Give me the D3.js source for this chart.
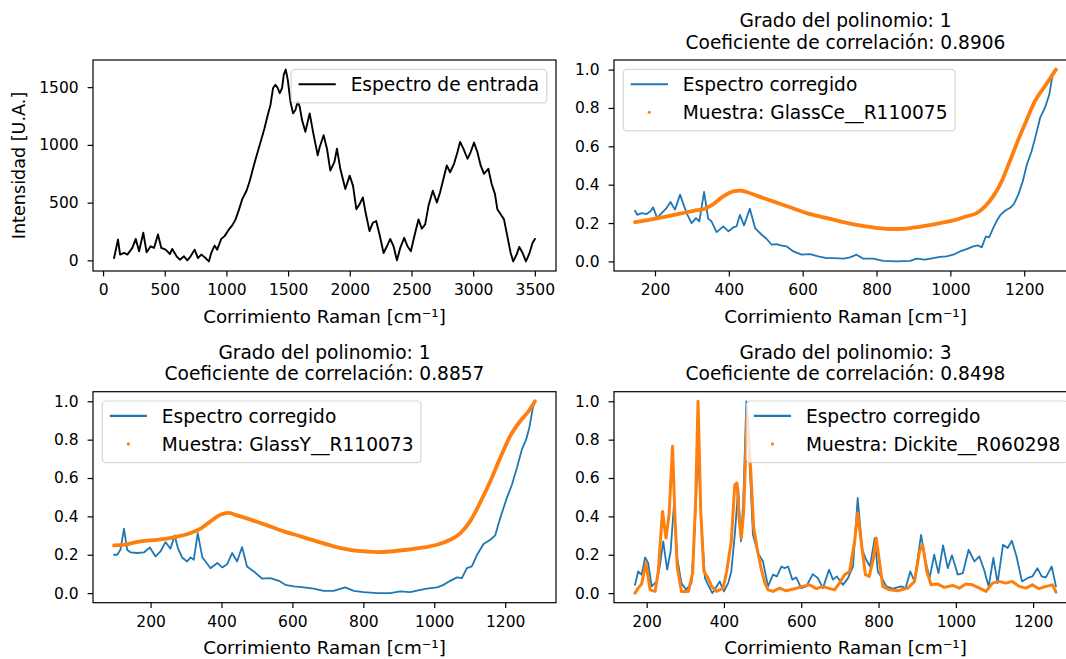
<!DOCTYPE html>
<html>
<head>
<meta charset="utf-8">
<script src="https://cdn.jsdelivr.net/npm/d3@7"></script>
<style>
body { margin: 0; background: #fff; }
text { font-family: "DejaVu Sans", sans-serif; fill: #000; }
</style>
</head>
<body>
<svg id="chart" width="1066" height="659"></svg>
<script>
// spectrum of the input sample [raman shift, intensity]
const entrada = [[89,20],[121,180],[138,50],[170,64],[197,50],[237,108],[265,186],[292,79],[326,239],[353,70],
  [386,122],[413,108],[445,224],[472,108],[507,93],[542,55],[561,99],[596,35],[623,6],[656,35],[683,0],[710,35],
  [742,93],[769,20],[796,50],[831,20],[858,-9],[877,64],[904,128],[925,93],[958,186],[985,210],[1020,268],
  [1047,303],[1074,355],[1101,437],[1128,530],[1163,603],[1190,691],[1222,822],[1249,924],[1281,1040],
  [1308,1142],[1335,1259],[1357,1346],[1378,1492],[1397,1521],[1416,1492],[1432,1448],[1451,1492],[1465,1608],
  [1481,1652],[1497,1565],[1519,1375],[1540,1273],[1559,1302],[1578,1375],[1594,1332],[1613,1215],[1640,1113],
  [1675,1273],[1702,1113],[1740,909],[1756,982],[1788,1084],[1815,967],[1842,778],[1875,851],[1896,967],
  [1923,793],[1964,618],[1999,734],[2026,647],[2053,443],[2080,487],[2106,545],[2128,414],[2160,253],[2187,326],
  [2214,341],[2241,224],[2274,64],[2301,122],[2328,186],[2355,122],[2382,0],[2409,108],[2441,195],[2468,122],
  [2495,79],[2530,239],[2557,355],[2584,274],[2611,312],[2638,472],[2673,603],[2706,501],[2732,589],[2759,705],
  [2786,822],[2813,763],[2845,836],[2873,938],[2894,1026],[2921,967],[2954,880],[2980,938],[3007,1020],[3034,938],
  [3061,822],[3088,749],[3123,793],[3150,661],[3177,574],[3196,443],[3223,399],[3250,355],[3277,210],[3304,64],
  [3325,-9],[3352,50],[3374,117],[3401,64],[3428,-9],[3455,58],[3482,152],[3501,186]];

// corrected spectrum vs GlassCe__R110075
const corrGlassCe = [[146,0.264],[152,0.243],[164,0.252],[177,0.247],[188,0.261],[195,0.282],[206,0.226],[218,0.252],
  [230,0.275],[242,0.310],[254,0.270],[268,0.348],[279,0.287],[288,0.243],[299,0.200],[311,0.226],[320,0.209],
  [333,0.362],[344,0.223],[353,0.209],[367,0.153],[385,0.183],[399,0.157],[412,0.177],[421,0.183],[430,0.243],
  [441,0.188],[457,0.275],[471,0.174],[489,0.139],[502,0.118],[516,0.087],[529,0.090],[543,0.082],[557,0.078],
  [575,0.052],[597,0.035],[620,0.038],[642,0.026],[665,0.017],[683,0.017],[710,0.014],[728,0.021],[746,0.035],
  [764,0.014],[791,0.014],[818,0.003],[854,0.000],[891,0.003],[909,0.014],[931,0.009],[954,0.017],[972,0.024],
  [990,0.026],[1008,0.035],[1026,0.052],[1044,0.064],[1062,0.078],[1076,0.083],[1085,0.073],[1096,0.130],
  [1105,0.125],[1116,0.174],[1125,0.209],[1136,0.243],[1148,0.264],[1161,0.278],[1172,0.299],[1184,0.348],
  [1196,0.417],[1207,0.504],[1220,0.574],[1232,0.661],[1243,0.748],[1256,0.800],[1268,0.870],[1277,0.974],[1286,1.0]];
const refGlassCe = [[146,0.205],[177,0.214],[223,0.231],[268,0.249],[304,0.264],[335,0.275],[358,0.299],[385,0.339],
  [412,0.365],[430,0.369],[448,0.362],[475,0.343],[520,0.313],[566,0.282],[611,0.252],[656,0.230],[701,0.209],
  [746,0.191],[791,0.177],[827,0.170],[854,0.169],[891,0.174],[927,0.184],[972,0.200],[1008,0.214],[1044,0.235],
  [1071,0.252],[1094,0.287],[1116,0.339],[1139,0.417],[1161,0.522],[1184,0.635],[1207,0.739],[1229,0.835],
  [1256,0.913],[1274,0.965],[1286,1.0]];

// corrected spectrum vs GlassY__R110073
const corrGlassY = [[97,0.200],[106,0.200],[115,0.226],[125,0.336],[134,0.226],[144,0.212],[162,0.209],[181,0.212],
  [198,0.238],[214,0.191],[228,0.217],[242,0.266],[256,0.231],[268,0.301],[277,0.235],[289,0.186],[303,0.165],
  [313,0.186],[322,0.174],[333,0.313],[346,0.186],[355,0.165],[369,0.130],[388,0.157],[402,0.134],[416,0.151],
  [430,0.209],[444,0.165],[458,0.240],[472,0.139],[491,0.113],[515,0.075],[538,0.078],[562,0.064],[580,0.043],
  [604,0.035],[632,0.030],[660,0.023],[688,0.012],[716,0.012],[749,0.030],[773,0.012],[801,0.005],[839,0.000],
  [876,0.000],[904,0.009],[932,0.005],[961,0.017],[979,0.023],[1008,0.030],[1026,0.043],[1045,0.064],[1064,0.082],
  [1078,0.078],[1092,0.130],[1106,0.139],[1120,0.197],[1139,0.256],[1158,0.278],[1172,0.301],[1186,0.391],
  [1203,0.487],[1219,0.565],[1233,0.652],[1247,0.748],[1259,0.800],[1268,0.861],[1278,0.966],[1284,1.0]];
const refGlassY = [[97,0.249],[125,0.252],[172,0.270],[219,0.278],[266,0.291],[313,0.313],[341,0.336],[369,0.374],
  [397,0.409],[421,0.418],[444,0.405],[482,0.383],[529,0.353],[576,0.322],[623,0.296],[669,0.270],[716,0.244],
  [763,0.226],[810,0.217],[839,0.214],[876,0.217],[923,0.226],[970,0.238],[1008,0.252],[1045,0.278],[1074,0.313],
  [1101,0.374],[1129,0.470],[1158,0.583],[1186,0.705],[1214,0.818],[1242,0.896],[1266,0.948],[1284,1.0]];

// corrected spectrum vs Dickite__R060298
const corrDickite = [[170,0.043],[178,0.113],[187,0.096],[196,0.186],[204,0.157],[213,0.035],[226,0.061],[234,0.139],
  [243,0.270],[253,0.122],[262,0.217],[271,0.470],[279,0.183],[290,0.052],[302,0.017],[316,0.052],[325,0.357],
  [333,0.748],[342,0.357],[351,0.078],[359,0.043],[370,0.000],[381,0.035],[389,0.061],[400,0.009],[411,0.052],
  [419,0.113],[428,0.304],[437,0.548],[444,0.270],[450,0.478],[458,1.0],[467,0.652],[475,0.304],[488,0.209],
  [501,0.165],[514,0.035],[527,0.096],[537,0.087],[549,0.139],[557,0.130],[566,0.139],[577,0.070],[587,0.082],
  [600,0.026],[613,0.035],[630,0.099],[643,0.078],[656,0.026],[672,0.122],[682,0.070],[692,0.087],[708,0.043],
  [721,0.078],[734,0.139],[746,0.496],[758,0.226],[768,0.174],[778,0.139],[790,0.287],[798,0.113],[809,0.078],
  [820,0.035],[837,0.023],[858,0.035],[870,0.026],[882,0.113],[893,0.061],[910,0.304],[921,0.174],[932,0.078],
  [944,0.200],[955,0.104],[967,0.249],[979,0.130],[990,0.197],[1005,0.096],[1018,0.104],[1033,0.226],[1048,0.165],
  [1061,0.191],[1073,0.122],[1085,0.035],[1097,0.183],[1108,0.052],[1122,0.252],[1134,0.235],[1145,0.273],
  [1157,0.191],[1171,0.061],[1185,0.078],[1198,0.087],[1211,0.130],[1222,0.087],[1233,0.082],[1248,0.139],[1259,0.035]];
const refDickite = [[170,0.0],[178,0.026],[187,0.047],[198,0.157],[209,0.017],[222,0.009],[230,0.113],[241,0.426],
  [250,0.287],[258,0.409],[267,0.765],[273,0.409],[279,0.139],[290,0.009],[308,0.009],[319,0.104],[327,0.496],
  [333,1.0],[340,0.426],[348,0.113],[359,0.078],[368,0.035],[381,0.009],[398,0.026],[407,0.113],[419,0.270],
  [428,0.565],[434,0.574],[439,0.391],[445,0.287],[451,0.426],[460,0.939],[469,0.652],[477,0.339],[488,0.209],
  [497,0.122],[506,0.052],[514,0.017],[527,0.009],[544,0.026],[561,0.012],[583,0.023],[604,0.035],[622,0.043],
  [639,0.023],[656,0.035],[669,0.026],[686,0.017],[699,0.052],[712,0.096],[725,0.113],[738,0.270],[746,0.417],
  [755,0.270],[766,0.096],[776,0.087],[787,0.183],[794,0.287],[801,0.183],[811,0.035],[828,0.017],[850,0.012],
  [876,0.026],[893,0.061],[906,0.217],[914,0.252],[925,0.113],[936,0.043],[953,0.047],[970,0.030],[992,0.040],
  [1009,0.026],[1026,0.047],[1043,0.043],[1061,0.026],[1078,0.009],[1095,0.052],[1112,0.061],[1129,0.052],
  [1146,0.061],[1164,0.035],[1181,0.026],[1198,0.043],[1215,0.023],[1233,0.035],[1250,0.043],[1259,0.005]];

const ticksWide = [0, 500, 1000, 1500, 2000, 2500, 3000, 3500];
const ticksIntensity = [0, 500, 1000, 1500];
const ticksShift = [200, 400, 600, 800, 1000, 1200];
const ticksNorm = [0, 0.2, 0.4, 0.6, 0.8, 1.0];

const blue = '#1f77b4', orange = '#ff7f0e';
const xLabel = 'Corrimiento Raman [cm⁻¹]';

const svg = d3.select('#chart');

// matplotlib style 5% margins
function padded(ext) {
    let r = ext[1] - ext[0];
    return [ext[0] - 0.05 * r, ext[1] + 0.05 * r];
}

function drawPanel(p) {
    const all = p.series.flatMap(s => s.data);
    const x = d3.scaleLinear().domain(padded(d3.extent(all, d => d[0]))).range([p.left, p.left + p.w]);
    const y = d3.scaleLinear().domain(padded(d3.extent(all, d => d[1]))).range([p.top + p.h, p.top]);

    const clipId = 'clip' + p.id;
    svg.append('clipPath').attr('id', clipId)
        .append('rect').attr('x', p.left).attr('y', p.top).attr('width', p.w).attr('height', p.h);

    const g = svg.append('g').attr('clip-path', `url(#${clipId})`);
    p.series.forEach(s => {
        let line = d3.line().x(d => x(d[0])).y(d => y(d[1]));
        if (s.smooth) line.curve(d3.curveMonotoneX);
        g.append('path')
            .attr('d', line(s.data))
            .attr('fill', 'none')
            .attr('stroke', s.color)
            .attr('stroke-width', s.width)
            .attr('stroke-linejoin', 'round')
            .attr('stroke-linecap', 'round');
    });

    // axes
    const xAxis = d3.axisBottom(x).tickValues(p.xTicks).tickSize(5.4).tickPadding(7.6).tickFormat(d3.format('d'));
    const yAxis = d3.axisLeft(y).tickValues(p.yTicks).tickSize(5.4).tickPadding(9).tickFormat(p.yFormat);
    const gx = svg.append('g').attr('transform', `translate(0,${p.top + p.h})`).call(xAxis);
    const gy = svg.append('g').attr('transform', `translate(${p.left},0)`).call(yAxis);
    [gx, gy].forEach(a => {
        a.select('.domain').remove();
        a.selectAll('line').attr('stroke', '#000').attr('stroke-width', 1.2);
        a.selectAll('text').attr('font-family', '"DejaVu Sans", sans-serif').attr('font-size', 15.5).attr('fill', '#000');
    });

    svg.append('rect')
        .attr('x', p.left).attr('y', p.top).attr('width', p.w).attr('height', p.h)
        .attr('fill', 'none').attr('stroke', '#000').attr('stroke-width', 1.2);

    const cx = p.left + p.w / 2;
    svg.append('text').attr('x', cx).attr('y', p.top + p.h + 51.5)
        .attr('text-anchor', 'middle').attr('font-size', 18.3).text(xLabel);

    if (p.title) {
        p.title.forEach((t, i) => {
            svg.append('text').attr('x', cx).attr('y', p.top - 11.5 - (p.title.length - 1 - i) * 21.5)
                .attr('text-anchor', 'middle').attr('font-size', 18.6).text(t);
        });
    }
    if (p.yLabel) {
        svg.append('text')
            .attr('transform', `translate(25,${p.top + p.h / 2}) rotate(-90)`)
            .attr('text-anchor', 'middle').attr('font-size', 17.6).text(p.yLabel);
    }

    // legend
    const fs = 18.6, pad = 0.4 * fs, rowH = 18.7, gap = 0.5 * fs, handle = 2 * fs, hpad = 0.8 * fs, axPad = 0.5 * fs;
    const lg = svg.append('g');
    const box = lg.append('rect');
    const texts = p.series.map((s, i) => lg.append('text').attr('font-size', fs).text(s.label));
    const tw = d3.max(texts, t => t.node().getComputedTextLength());
    const bw = pad * 2 + handle + hpad + tw;
    const bh = pad * 2 + p.series.length * rowH + (p.series.length - 1) * gap;
    const bx = p.legend === 'ur' ? p.left + p.w - axPad - bw : p.left + axPad;
    const by = p.top + axPad;
    box.attr('x', bx).attr('y', by).attr('width', bw).attr('height', bh).attr('rx', 3.7)
        .attr('fill', '#fff').attr('fill-opacity', 0.8)
        .attr('stroke', '#cccccc').attr('stroke-opacity', 0.8).attr('stroke-width', 1.2);
    p.series.forEach((s, i) => {
        const rowTop = by + pad + i * (rowH + gap);
        const hx = bx + pad;
        if (s.marker === 'dot') {
            lg.append('circle').attr('cx', hx + handle / 2).attr('cy', rowTop + 7.5).attr('r', 1.6).attr('fill', s.color);
        } else {
            lg.append('line').attr('x1', hx).attr('x2', hx + handle)
                .attr('y1', rowTop + 7.5).attr('y2', rowTop + 7.5)
                .attr('stroke', s.color).attr('stroke-width', 2.2);
        }
        texts[i].attr('x', hx + handle + hpad).attr('y', rowTop + 14.3);
    });
}

const W = 463, H = 211;
const fmt1 = d3.format('.1f');

drawPanel({
    id: 1, left: 93, top: 60, w: W, h: H,
    xTicks: ticksWide, yTicks: ticksIntensity, yFormat: d3.format('d'),
    yLabel: 'Intensidad [U.A.]', legend: 'ur',
    series: [{data: entrada, color: '#000', width: 1.9, label: 'Espectro de entrada'}]
});
drawPanel({
    id: 2, left: 614, top: 60, w: W, h: H,
    xTicks: ticksShift, yTicks: ticksNorm, yFormat: fmt1, legend: 'ul',
    title: ['Grado del polinomio: 1', 'Coeficiente de correlación: 0.8906'],
    series: [
        {data: corrGlassCe, color: blue, width: 1.8, label: 'Espectro corregido'},
        {data: refGlassCe, color: orange, width: 3.8, smooth: true, marker: 'dot', label: 'Muestra: GlassCe__R110075'}
    ]
});
drawPanel({
    id: 3, left: 93, top: 391.7, w: W, h: H,
    xTicks: ticksShift, yTicks: ticksNorm, yFormat: fmt1, legend: 'ul',
    title: ['Grado del polinomio: 1', 'Coeficiente de correlación: 0.8857'],
    series: [
        {data: corrGlassY, color: blue, width: 1.8, label: 'Espectro corregido'},
        {data: refGlassY, color: orange, width: 3.8, smooth: true, marker: 'dot', label: 'Muestra: GlassY__R110073'}
    ]
});
drawPanel({
    id: 4, left: 614, top: 391.7, w: W, h: H,
    xTicks: ticksShift, yTicks: ticksNorm, yFormat: fmt1, legend: 'ur',
    title: ['Grado del polinomio: 3', 'Coeficiente de correlación: 0.8498'],
    series: [
        {data: corrDickite, color: blue, width: 1.8, label: 'Espectro corregido'},
        {data: refDickite, color: orange, width: 3, marker: 'dot', label: 'Muestra: Dickite__R060298'}
    ]
});
</script>
</body>
</html>
